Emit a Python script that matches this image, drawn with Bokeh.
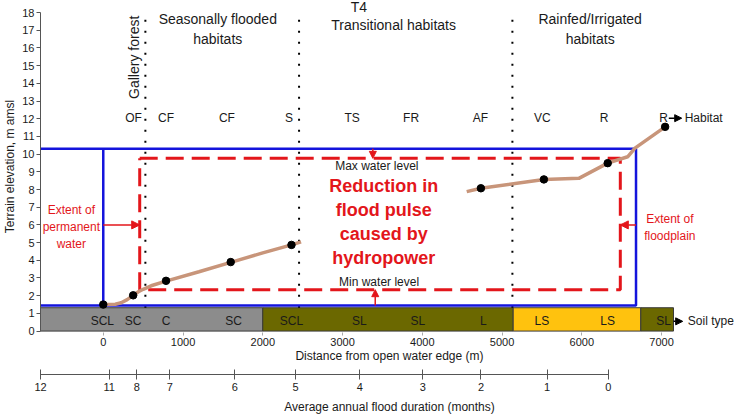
import math
from bokeh.plotting import figure
from bokeh.models import Range1d, LinearAxis, FixedTicker, Label, Arrow, NormalHead, ColumnDataSource
from bokeh.embed import file_html
from bokeh.resources import INLINE
from bokeh.core.properties import value

# ---------------- data ----------------
elev_ticks = list(range(0, 19))
dist_ticks = [0, 1000, 2000, 3000, 4000, 5000, 6000, 7000]
month_labels = [12, 11, 8, 7, 6, 5, 4, 3, 2, 1, 0]
month_pos = [-787, 75, 421, 833, 1648, 2410, 3218, 4008, 4736, 5565, 6333]

terrain1_x = [0, 150, 225, 300, 375, 440, 500, 600, 787, 1200, 1598, 2000, 2360, 2480]
terrain1_y = [1.5, 1.52, 1.6, 1.78, 2.02, 2.22, 2.36, 2.56, 2.82, 3.35, 3.88, 4.42, 4.87, 5.04]
terrain2_x = [4557, 4735, 5525, 5963, 6325, 6575, 6667, 7045]
terrain2_y = [7.88, 8.07, 8.57, 8.63, 9.49, 9.85, 10.34, 11.54]

dots_x = [0, 375, 787, 1598, 2360, 4735, 5525, 6325, 7045]
dots_y = [1.5, 2.02, 2.84, 3.9, 4.87, 8.07, 8.57, 9.49, 11.54]

habitat_names = ["OF", "CF", "CF", "S", "TS", "FR", "AF", "VC", "R", "R"]
habitat_x = [380, 787, 1550, 2330, 3120, 3860, 4730, 5505, 6280, 7025]
habitat_level = 12.03

boundary_x = [528, 2455, 5130]

soil_left = [-787, 2000, 5140, 6740]
soil_right = [2000, 5140, 6740, 7150]
soil_zone = ["gray", "olive", "yellow", "olive"]
soil_top = 1.32
soil_names = ["SCL", "SC", "C", "SC", "SCL", "SL", "SL", "L", "LS", "LS", "SL"]
soil_label_x = [-12, 375, 787, 1635, 2360, 3210, 3945, 4765, 5500, 6325, 7025]

max_water = 10.3
min_water = 1.45
permanent_edge = 0
floodplain_edge = 6680
reduced_max = 9.76
reduced_min = 2.34
reduced_left = 457
reduced_right = 6483

# ---------------- styles ----------------
FONT = "Liberation Sans"
BLUE = "#1414DC"
RED = "#E3161B"
TAN = "#C8957A"
TXT = "#1A1A1A"
zone_colors = {"gray": "#8C8C8C", "olive": "#6B6800", "yellow": "#FFC20E"}

X0, X1 = -787, 7965
p = figure(width=738, height=416, output_backend="svg", toolbar_location=None,
           x_range=Range1d(X0, X1), y_range=Range1d(-0.08, 18.68),
           min_border_left=0, min_border_right=0, min_border_top=0, min_border_bottom=0)
p.grid.visible = False
p.outline_line_color = None
p.background_fill_color = "white"

# y axis
ya = p.yaxis[0]
ya.ticker = FixedTicker(ticks=elev_ticks)
ya.bounds = (0, 18)
ya.axis_label = "Terrain elevation, m amsl"
ya.axis_label_text_font = FONT
ya.axis_label_text_font_style = "normal"
ya.axis_label_text_font_size = "12px"
ya.axis_label_text_color = TXT
ya.axis_label_standoff = 2
ya.major_label_text_font = FONT
ya.major_label_text_font_size = "11px"
ya.major_label_text_color = TXT
ya.major_label_standoff = 2
ya.major_tick_in = 0
ya.major_tick_out = 4
ya.minor_tick_line_color = None
ya.axis_line_color = "#555555"
ya.major_tick_line_color = "#555555"

# primary x axis (distance)
xa = p.xaxis[0]
xa.ticker = FixedTicker(ticks=dist_ticks)
xa.axis_line_color = None
xa.major_tick_in = 0
xa.major_tick_out = 3
xa.major_tick_line_color = "#AAAAAA"
xa.minor_tick_line_color = None
xa.major_label_text_font = FONT
xa.major_label_text_font_size = "11px"
xa.major_label_text_color = TXT
xa.major_label_standoff = 2
xa.axis_label = "Distance from open water edge (m)"
xa.axis_label_text_font = FONT
xa.axis_label_text_font_style = "normal"
xa.axis_label_text_font_size = "12px"
xa.axis_label_text_color = TXT
xa.axis_label_standoff = 0

# spacer axis
sp = LinearAxis(ticker=FixedTicker(ticks=[]), axis_line_color=None, major_tick_line_color=None,
                minor_tick_line_color=None, axis_label=" ", axis_label_text_font_size="6px",
                axis_label_standoff=0, major_label_text_font_size="1px", major_tick_out=0,
                major_label_standoff=0)
p.add_layout(sp, "below")

# flood duration axis
fa = LinearAxis(ticker=FixedTicker(ticks=month_pos),
                major_label_overrides={pos: str(m) for pos, m in zip(month_pos, month_labels)},
                bounds=(month_pos[0], month_pos[-1]))
fa.axis_line_color = "#555555"
fa.major_tick_line_color = "#555555"
fa.major_tick_in = 5
fa.major_tick_out = 5
fa.minor_tick_line_color = None
fa.major_label_text_font = FONT
fa.major_label_text_font_size = "11px"
fa.major_label_text_color = TXT
fa.major_label_standoff = 3
fa.axis_label = "Average annual flood duration (months)"
fa.axis_label_text_font = FONT
fa.axis_label_text_font_style = "normal"
fa.axis_label_text_font_size = "12px"
fa.axis_label_text_color = TXT
fa.axis_label_standoff = 6
p.add_layout(fa, "below")

# soil bar
soil_src = ColumnDataSource(dict(left=soil_left, right=soil_right,
                                 bottom=[0] * len(soil_left), top=[soil_top] * len(soil_left),
                                 color=[zone_colors[z] for z in soil_zone]))
p.quad(left="left", right="right", bottom="bottom", top="top", fill_color="color",
       line_color="#3A3A3A", line_width=1, source=soil_src)
p.text(x=soil_label_x, y=[0.55] * len(soil_names), text=soil_names, text_font=value(FONT),
       text_font_size="12px", text_align="center", text_baseline="middle", text_color=TXT)

# habitat boundaries (dotted)
for bx in boundary_x:
    p.line([bx, bx], [soil_top, 17.8], line_color="black", line_width=2, line_dash="2 9")

# blue water extent
p.line([X0, floodplain_edge, floodplain_edge, X0], [max_water, max_water, min_water, min_water],
       line_color=BLUE, line_width=2.5)
p.line([permanent_edge, permanent_edge], [min_water, max_water], line_color=BLUE, line_width=2.5)

# red reduced flood pulse
p.line([reduced_left, reduced_right, reduced_right, reduced_left, reduced_left],
       [reduced_max, reduced_max, reduced_min, reduced_min, reduced_max],
       line_color=RED, line_width=3, line_dash="18 8")

# terrain profile
p.line(terrain1_x, terrain1_y, line_color=TAN, line_width=3.5)
p.line(terrain2_x, terrain2_y, line_color=TAN, line_width=3.5)
p.scatter(dots_x, dots_y, size=7.5, fill_color="black", line_color="black")

# habitat labels
p.text(x=habitat_x, y=[habitat_level] * len(habitat_x), text=habitat_names, text_font=value(FONT),
       text_font_size="12px", text_align="center", text_baseline="middle", text_color=TXT)


def lab(x, y, text, size="14px", color=TXT, align="center", style="normal", angle=0):
    p.add_layout(Label(x=x, y=y, text=text, text_font=FONT, text_font_size=size, text_color=color,
                       text_align=align, text_baseline="middle", text_font_style=style, angle=angle,
                       text_line_height=1.2))


lab(383, 15.47, "Gallery forest", angle=math.pi / 2)
lab(1436, 17.07, "Seasonally flooded\nhabitats")
lab(3205, 18.34, "T4")
lab(3640, 17.27, "Transitional habitats")
lab(6105, 17.07, "Rainfed/Irrigated\nhabitats")
lab(3430, 9.32, "Max water level", size="12px")
lab(3458, 2.8, "Min water level", size="12px")
lab(3518, 6.17, "Reduction in\nflood pulse\ncaused by\nhydropower", size="18px", color=RED, style="bold")
lab(-400, 5.89, "Extent of\npermanent\nwater", size="12px", color=RED)
lab(7104, 5.86, "Extent of\nfloodplain", size="12px", color=RED)
lab(7290, habitat_level, "Habitat", size="12px", align="left")
lab(7330, 0.55, "Soil type", size="12px", align="left")


def arrow(x0, y0, x1, y1, color, size=8, width=1.5):
    p.add_layout(Arrow(end=NormalHead(size=size, fill_color=color, line_color=color),
                       x_start=x0, y_start=y0, x_end=x1, y_end=y1,
                       line_color=color, line_width=width))


arrow(permanent_edge, 6.0, reduced_left, 6.0, RED)
arrow(floodplain_edge, 6.0, reduced_right, 6.0, RED)
arrow(3380, max_water, 3380, reduced_max, RED, size=7)
arrow(3410, min_water, 3410, reduced_min, RED, size=7)
arrow(7091, habitat_level, 7253, habitat_level, "black", size=7)
arrow(7150, 0.55, 7265, 0.55, "black", size=7)

open("out.html", "w").write(file_html(p, INLINE))
